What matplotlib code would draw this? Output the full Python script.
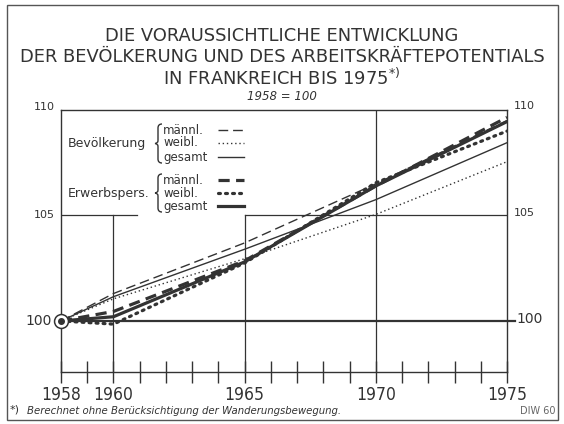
import matplotlib
matplotlib.use('Agg')
import matplotlib.pyplot as plt
from matplotlib.lines import Line2D
from matplotlib.patches import Rectangle, PathPatch
from matplotlib.path import Path

# ---------------- data ----------------
years = [1958, 1960, 1965, 1970, 1975]
bev_maennl = [100, 101.3, 103.7, 106.5, 109.5]
bev_weibl = [100, 101.05, 102.95, 105.05, 107.55]
bev_gesamt = [100, 101.15, 103.4, 105.75, 108.45]
erw_maennl = [100, 100.45, 102.85, 106.4, 109.65]
erw_weibl = [100, 99.85, 102.75, 106.55, 109.0]
erw_gesamt = [100, 100.2, 102.8, 106.4, 109.45]
xtick_years = [1958, 1960, 1965, 1970, 1975]
ytick_values = [110, 105, 100]

title_lines = ["DIE VORAUSSICHTLICHE ENTWICKLUNG",
               "DER BEVÖLKERUNG UND DES ARBEITSKRÄFTEPOTENTIALS",
               "IN FRANKREICH BIS 1975$^{*)}$"]
subtitle = "1958 = 100"
footnote = "Berechnet ohne Berücksichtigung der Wanderungsbewegung."
source = "DIW 60"
legend_groups = ["Bevölkerung", "Erwerbspers."]
legend_items = ["männl.", "weibl.", "gesamt"]

# ---------------- style ----------------
FONT = 'DejaVu Sans'
C = '#333333'
W, H = 564, 424

def fx(px):
    return px / W

def fy(py):
    return 1 - py / H

fig = plt.figure(figsize=(W / 100, H / 100), dpi=100)
fig.patch.set_facecolor('white')

# outer frame
fig.add_artist(Rectangle((fx(7), fy(420)), fx(558) - fx(7), fy(5) - fy(420),
                         transform=fig.transFigure, fill=False, ec='#555555', lw=1.0))

ax = fig.add_axes([fx(61), fy(372), fx(507) - fx(61), fy(110) - fy(372)])
ax.set_xlim(1958, 1975)
ax.set_ylim(97.58, 110)
ax.set_facecolor('none')
for s in ax.spines.values():
    s.set_color(C)
    s.set_linewidth(1.0)

# grid lines (partially hidden by legend area)
ax.axvline(1970, color=C, lw=0.9, zorder=1)
ax.plot([1960, 1960], [97.58, 105], color=C, lw=0.9, zorder=1)
ax.plot([1965, 1965], [97.58, 105], color=C, lw=0.9, zorder=1)
ax.plot([1958, 1960.9], [105, 105], color=C, lw=0.9, zorder=1)
ax.plot([1965, 1975], [105, 105], color=C, lw=0.9, zorder=1)
ax.plot([1958, 1975.3], [100, 100], color=C, lw=1.6, zorder=1, clip_on=False)
ax.plot([1957.8, 1958], [100, 100], color=C, lw=1.2, zorder=1, clip_on=False)

# ticks
ax.set_xticks(xtick_years)
ax.set_xticks(range(1958, 1976), minor=True)
ax.tick_params(axis='x', which='both', direction='inout', length=16, width=1.0,
               color=C, pad=2)
ax.set_xticklabels([str(y) for y in xtick_years], fontsize=12.5, family=FONT,
                   fontstretch='condensed', color=C)
ax.tick_params(axis='y', left=False, labelleft=False)

# y labels (manual, both sides)
ytr = ax.get_yaxis_transform()
lab_sizes = {110: 8, 105: 8, 100: 10}
for v in ytick_values:
    ax.text(-0.013 if v != 100 else -0.02, v + (0.15 if v == 110 else 0), str(v),
            transform=ytr, ha='right', va='center',
            fontsize=lab_sizes[v], family=FONT, color=C)
    ax.text(1.015 if v != 100 else 1.022, v + (0.2 if v == 110 else 0.1), str(v),
            transform=ytr, ha='left', va='center', fontsize=lab_sizes[v], family=FONT, color=C)

# series
thin = 1.0
thick = 2.3
ax.plot(years, bev_maennl, color=C, lw=thin, dashes=(7, 3.5), zorder=3)
ax.plot(years, bev_weibl, color=C, lw=thin, dashes=(1, 2), zorder=3)
ax.plot(years, bev_gesamt, color=C, lw=thin, zorder=3)
ax.plot(years, erw_maennl, color=C, lw=thick, dashes=(3.5, 2), zorder=3)
ax.plot(years, erw_weibl, color=C, lw=thick, dashes=(0.6, 1.6), dash_capstyle='round', zorder=3)
ax.plot(years, erw_gesamt, color=C, lw=thick, zorder=3)

# origin marker
ax.plot([years[0]], [bev_gesamt[0]], marker='o', ms=10, mfc='white', mec=C, mew=1.1,
        clip_on=False, zorder=5)
ax.plot([years[0]], [bev_gesamt[0]], marker='o', ms=4, mfc=C, mec=C, clip_on=False, zorder=6)

# titles
title_y = [36, 57, 78]
for line, ty in zip(title_lines, title_y):
    fig.text(0.5, fy(ty), line, ha='center', va='center', fontsize=12.9, family=FONT, color=C)
fig.text(0.5, fy(96), subtitle, ha='center', va='center', fontsize=8.5, style='italic',
         family=FONT, color=C)

# legend
item_y = [[130, 143, 157], [180, 193, 206]]
group_y = [144, 193]
styles = [
    [dict(lw=thin, dashes=(7, 3.5)), dict(lw=thin, dashes=(1, 2)), dict(lw=thin)],
    [dict(lw=thick, dashes=(3.5, 2)), dict(lw=thick, dashes=(0.6, 1.6), dash_capstyle='round'),
     dict(lw=thick)],
]


def brace(x, y0, y1, w=4):
    ym = (y0 + y1) / 2
    pts = [(x + w, y0),
           (x, y0), (x, y0 + 4),
           (x, ym - 3),
           (x, ym), (x - 3, ym),
           (x, ym), (x, ym + 3),
           (x, y1 - 4),
           (x, y1), (x + w, y1)]
    codes = [Path.MOVETO,
             Path.CURVE3, Path.CURVE3,
             Path.LINETO,
             Path.CURVE3, Path.CURVE3,
             Path.CURVE3, Path.CURVE3,
             Path.LINETO,
             Path.CURVE3, Path.CURVE3]
    verts = [(fx(px), fy(py)) for px, py in pts]
    fig.add_artist(PathPatch(Path(verts, codes), transform=fig.transFigure,
                             fill=False, ec=C, lw=1.0))


for g, name in enumerate(legend_groups):
    fig.text(fx(68), fy(group_y[g]), name, ha='left', va='center', fontsize=9,
             family=FONT, color=C)
    brace(158, item_y[g][0] - 6, item_y[g][2] + 6)
    for i, it in enumerate(legend_items):
        fig.text(fx(163), fy(item_y[g][i]), it, ha='left', va='center', fontsize=8.5,
                 family=FONT, color=C)
        fig.add_artist(Line2D([fx(218), fx(244)], [fy(item_y[g][i])] * 2,
                              transform=fig.transFigure, color=C, **styles[g][i]))

# footnote
fig.text(fx(10), fy(409), "*)", ha='left', va='center', fontsize=8, family=FONT, color=C)
fig.text(fx(27), fy(411), footnote, ha='left', va='center', fontsize=7.3, style='italic',
         family=FONT, color=C)
fig.text(fx(555), fy(411), source, ha='right', va='center', fontsize=7, family=FONT,
         color='#666666')

fig.savefig('out.png', dpi=100, facecolor='white')
